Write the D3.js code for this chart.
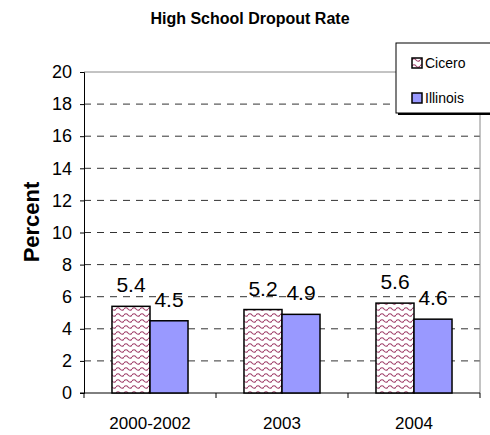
<!DOCTYPE html>
<html lang="en">
<head>
    <meta charset="UTF-8">
    <title>High School Dropout Rate</title>
    <style>
        body { margin: 0; background: #fff; }
        text { font-family: "Liberation Sans", Arial, sans-serif; fill: #000; }
    </style>
</head>
<body>
<div id="chart"></div>

<script src="https://d3js.org/d3.v7.min.js"></script>
<script>
    // data
    var categories = ["2000-2002", "2003", "2004"];
    var seriesNames = ["Cicero", "Illinois"];
    var cicero = [5.4, 5.2, 5.6];
    var illinois = [4.5, 4.9, 4.6];
    var yTicks = [0, 2, 4, 6, 8, 10, 12, 14, 16, 18, 20];

    var width = 490, height = 435;
    var plotLeft = 84, plotRight = 480, plotTop = 72, plotBottom = 393;

    var svg = d3.select("#chart").append("svg")
        .attr("width", width)
        .attr("height", height);

    // wavy fill for Cicero
    var defs = svg.append("defs");
    var pat = defs.append("pattern")
        .attr("id", "wave")
        .attr("patternUnits", "userSpaceOnUse")
        .attr("width", 8)
        .attr("height", 6);
    pat.append("rect").attr("width", 8).attr("height", 6).attr("fill", "#fff");
    pat.append("path")
        .attr("d", "M0,3 Q2,0.5 4,3 T8,3")
        .attr("fill", "none")
        .attr("stroke", "#a0406a")
        .attr("stroke-width", 1.2);

    var x = d3.scaleBand().domain(categories).range([plotLeft, plotRight]);
    var xs = d3.scaleBand().domain(seriesNames)
        .range([x.bandwidth() * 0.212, x.bandwidth() * 0.788]);
    var y = d3.scaleLinear().domain([0, 20]).range([plotBottom, plotTop]);

    // grid lines
    svg.append("g").selectAll("line")
        .data(yTicks.filter(function (d) { return d > 0 && d < 20; }))
        .enter().append("line")
        .attr("x1", plotLeft).attr("x2", plotRight)
        .attr("y1", function (d) { return y(d); })
        .attr("y2", function (d) { return y(d); })
        .attr("stroke", "#333")
        .attr("stroke-dasharray", "7,6");

    // top and right frame
    svg.append("line").attr("x1", plotLeft).attr("x2", plotRight)
        .attr("y1", y(20)).attr("y2", y(20)).attr("stroke", "#888");
    svg.append("line").attr("x1", plotRight).attr("x2", plotRight)
        .attr("y1", plotTop).attr("y2", plotBottom).attr("stroke", "#888");

    // y axis
    var yAxis = svg.append("g")
        .attr("transform", "translate(" + plotLeft + ",0)")
        .call(d3.axisLeft(y).tickValues(yTicks).tickSize(4).tickPadding(8));
    yAxis.select(".domain").attr("stroke", "#000");
    yAxis.selectAll("text").style("font-size", "18px");

    // x axis with ticks between categories
    var xAxis = svg.append("g")
        .attr("transform", "translate(0," + plotBottom + ")")
        .call(d3.axisBottom(x).tickSize(0).tickPadding(24));
    xAxis.select(".domain").remove();
    xAxis.selectAll("text").style("font-size", "17px");
    svg.append("line").attr("x1", plotLeft - 4).attr("x2", plotRight)
        .attr("y1", plotBottom).attr("y2", plotBottom).attr("stroke", "#000");
    svg.append("g").selectAll("line")
        .data(categories.concat(["end"]))
        .enter().append("line")
        .attr("x1", function (d, i) { return plotLeft + i * x.step(); })
        .attr("x2", function (d, i) { return plotLeft + i * x.step(); })
        .attr("y1", plotBottom).attr("y2", plotBottom + 5)
        .attr("stroke", "#000");

    // bars
    var rows = categories.map(function (c, i) {
        return [
            {cat: c, name: "Cicero", value: cicero[i]},
            {cat: c, name: "Illinois", value: illinois[i]}
        ];
    });
    var fills = {Cicero: "url(#wave)", Illinois: "#9999ff"};

    var groups = svg.append("g").selectAll("g")
        .data(rows)
        .enter().append("g")
        .attr("transform", function (d) { return "translate(" + x(d[0].cat) + ",0)"; });

    groups.selectAll("rect")
        .data(function (d) { return d; })
        .enter().append("rect")
        .attr("x", function (d) { return xs(d.name); })
        .attr("y", function (d) { return y(d.value); })
        .attr("width", xs.bandwidth())
        .attr("height", function (d) { return plotBottom - y(d.value); })
        .attr("fill", function (d) { return fills[d.name]; })
        .attr("stroke", "#000")
        .attr("stroke-width", 1.5);

    groups.selectAll("text")
        .data(function (d) { return d; })
        .enter().append("text")
        .attr("x", function (d) { return xs(d.name) + xs.bandwidth() / 2; })
        .attr("y", function (d) { return y(d.value) - 14; })
        .attr("text-anchor", "middle")
        .style("font-size", "21px")
        .text(function (d) { return d.value.toFixed(1); });

    // title
    svg.append("text")
        .attr("x", 250).attr("y", 24)
        .attr("text-anchor", "middle")
        .style("font-size", "16px")
        .style("font-weight", "bold")
        .text("High School Dropout Rate");

    // y label
    svg.append("text")
        .attr("transform", "translate(39,222) rotate(-90)")
        .attr("text-anchor", "middle")
        .style("font-size", "22px")
        .style("font-weight", "bold")
        .text("Percent");

    // legend
    var lg = svg.append("g").attr("transform", "translate(396,43)");
    lg.append("rect").attr("x", 2).attr("y", 2).attr("width", 110).attr("height", 70).attr("fill", "#000");
    lg.append("rect").attr("width", 110).attr("height", 70)
        .attr("fill", "#fff").attr("stroke", "#000");
    var items = lg.selectAll("g.item")
        .data(seriesNames)
        .enter().append("g")
        .attr("class", "item")
        .attr("transform", function (d, i) { return "translate(16," + (20 + i * 35) + ")"; });
    items.append("rect")
        .attr("x", 0).attr("y", -5)
        .attr("width", 10).attr("height", 10)
        .attr("fill", function (d) { return fills[d]; })
        .attr("stroke", "#000")
        .attr("stroke-width", 1.5);
    items.append("text")
        .attr("x", 13).attr("y", 0)
        .attr("dy", "0.35em")
        .style("font-size", "14px")
        .text(function (d) { return d; });
</script>
</body>
</html>
